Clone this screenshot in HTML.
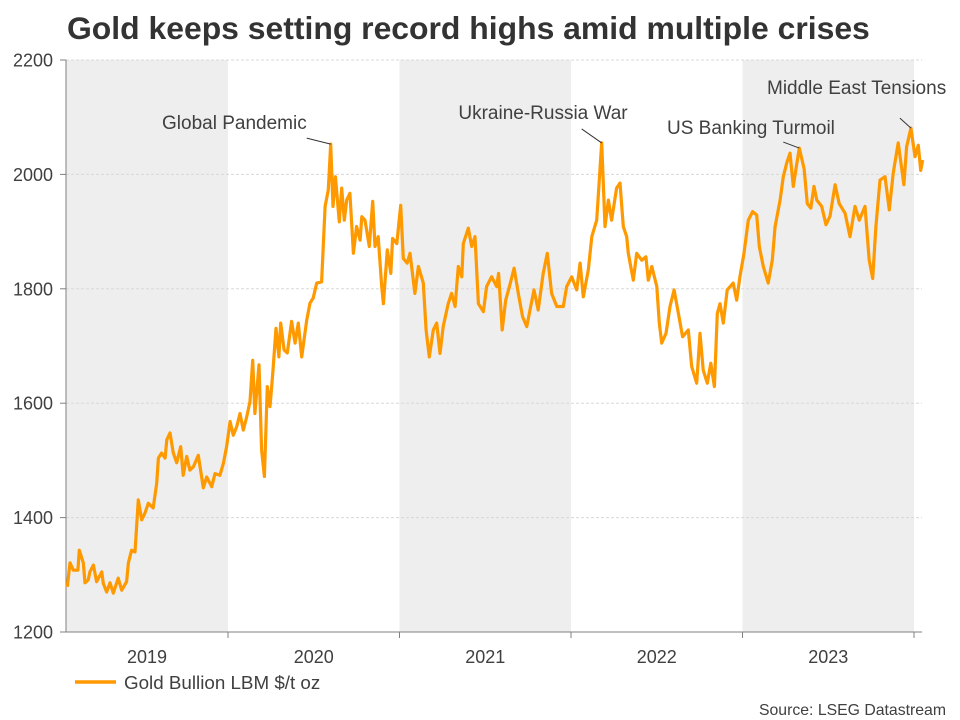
<!DOCTYPE html>
<html><head><meta charset="utf-8"><style>
html,body{margin:0;padding:0;background:#fff;}
svg{display:block;font-family:"Liberation Sans",Arial,sans-serif;}
</style></head><body>
<svg id="chart" width="960" height="720">
<text x="67" y="39" font-size="31.9" font-weight="bold" fill="#333">Gold keeps setting record highs amid multiple crises</text>
<g id="bands"></g><g id="grid"></g><g id="axes"></g><g id="series"></g><g id="notes"></g>
<g>
<line x1="75" y1="682" x2="116" y2="682" stroke="#FF9900" stroke-width="3.5"/>
<text x="124" y="689" font-size="18.8" fill="#404040">Gold Bullion LBM $/t oz</text>
</g>
<text x="946" y="715" font-size="15.8" fill="#404040" text-anchor="end">Source: LSEG Datastream</text>
</svg>
<script>
const dates=[2019.063,2019.079,2019.098,2019.125,2019.133,2019.156,2019.166,2019.185,2019.195,2019.215,2019.234,2019.264,2019.273,2019.293,2019.312,2019.331,2019.360,2019.380,2019.409,2019.419,2019.438,2019.458,2019.477,2019.497,2019.516,2019.535,2019.564,2019.584,2019.594,2019.613,2019.633,2019.643,2019.662,2019.681,2019.701,2019.724,2019.739,2019.759,2019.778,2019.798,2019.827,2019.856,2019.876,2019.905,2019.924,2019.953,2019.973,2019.992,
2020.012,2020.031,2020.051,2020.070,2020.089,2020.109,2020.128,2020.144,2020.157,2020.181,2020.196,2020.212,2020.229,2020.245,2020.261,2020.280,2020.297,2020.307,2020.327,2020.346,2020.371,2020.391,2020.410,2020.430,2020.459,2020.478,2020.497,2020.517,2020.546,2020.566,2020.585,2020.599,2020.612,2020.626,2020.649,2020.663,2020.678,2020.692,2020.711,2020.731,2020.750,2020.770,2020.780,2020.799,2020.824,2020.844,2020.857,2020.876,2020.896,2020.906,2020.929,2020.949,2020.960,2020.984,
2021.007,2021.022,2021.045,2021.061,2021.090,2021.110,2021.139,2021.155,2021.174,2021.197,2021.217,2021.236,2021.255,2021.284,2021.304,2021.324,2021.343,2021.363,2021.372,2021.401,2021.421,2021.440,2021.460,2021.489,2021.508,2021.537,2021.567,2021.578,2021.599,2021.619,2021.644,2021.668,2021.693,2021.718,2021.742,2021.761,2021.784,2021.809,2021.838,2021.862,2021.887,2021.917,2021.955,2021.975,
2022.004,2022.033,2022.053,2022.072,2022.101,2022.121,2022.150,2022.179,2022.198,2022.218,2022.237,2022.266,2022.286,2022.305,2022.325,2022.334,2022.363,2022.383,2022.412,2022.437,2022.451,2022.471,2022.500,2022.515,2022.529,2022.554,2022.577,2022.601,2022.626,2022.651,2022.684,2022.704,2022.733,2022.752,2022.771,2022.795,2022.815,2022.836,2022.853,2022.869,2022.888,2022.911,2022.946,2022.966,2022.985,
2023.009,2023.034,2023.059,2023.083,2023.098,2023.121,2023.150,2023.174,2023.190,2023.219,2023.238,2023.258,2023.277,2023.296,2023.312,2023.331,2023.359,2023.378,2023.398,2023.417,2023.433,2023.462,2023.487,2023.510,2023.540,2023.564,2023.598,2023.627,2023.656,2023.681,2023.714,2023.739,2023.759,2023.778,2023.802,2023.831,2023.856,2023.879,2023.908,2023.941,2023.957,2023.982,2024.006,2024.025,2024.039,2024.051];
const prices=[1279,1321,1308,1308,1343,1321,1286,1291,1305,1317,1288,1305,1285,1270,1286,1268,1294,1273,1288,1321,1343,1340,1431,1396,1408,1425,1417,1460,1504,1513,1504,1536,1548,1513,1496,1524,1474,1507,1483,1489,1509,1452,1471,1454,1477,1474,1495,1524,
1568,1544,1559,1582,1553,1576,1603,1675,1582,1667,1518,1472,1629,1594,1653,1731,1681,1740,1693,1688,1743,1705,1740,1681,1745,1775,1784,1810,1812,1944,1973,2053,1944,1996,1917,1976,1920,1955,1967,1862,1909,1885,1926,1920,1874,1953,1874,1891,1804,1774,1868,1827,1888,1879,
1946,1853,1845,1862,1792,1839,1810,1728,1681,1728,1740,1687,1734,1774,1792,1769,1839,1821,1879,1906,1874,1891,1774,1760,1804,1821,1804,1827,1728,1780,1807,1836,1792,1751,1734,1763,1798,1763,1827,1862,1792,1769,1769,1804,
1821,1798,1845,1786,1833,1891,1920,2055,1909,1955,1920,1976,1985,1909,1891,1862,1815,1862,1850,1856,1815,1839,1804,1740,1705,1722,1769,1798,1757,1716,1728,1664,1635,1722,1658,1635,1670,1629,1757,1774,1740,1798,1810,1780,1821,
1862,1920,1935,1929,1874,1839,1810,1850,1909,1955,1996,2020,2037,1979,2010,2046,2010,1949,1941,1979,1955,1944,1912,1927,1982,1949,1932,1891,1944,1920,1944,1850,1818,1909,1990,1996,1938,2002,2055,1982,2048,2081,2031,2051,2007,2025];
const yTicks=[1200,1400,1600,1800,2000,2200];
const years=[2019,2020,2021,2022,2023];
const shaded=[2019,2021,2023];
const notes=[["Global Pandemic",2020.599,2053],["Ukraine-Russia War",2022.179,2055],["US Banking Turmoil",2023.331,2046],["Middle East Tensions",2023.982,2081]];

const L=66,R=922,T=60,B=632,NS="http://www.w3.org/2000/svg";
function xS(d){return 56.5+(d-2019)*171.5;}
function yS(v){return B-(v-1200)*(B-T)/1000;}
function mk(tag,at,parent,txt){const e=document.createElementNS(NS,tag);for(const k in at)e.setAttribute(k,at[k]);if(txt!==undefined)e.textContent=txt;document.getElementById(parent).appendChild(e);return e;}

shaded.forEach(y=>{const x0=Math.max(L,xS(y)),x1=Math.min(R,xS(y+1));
const r=mk('rect',{x:x0,y:T,width:x1-x0,height:B-T,fill:'#eeeeee'},'bands');

});

yTicks.forEach(v=>{const y=yS(v);
if(v>1200){const g=mk('line',{x1:L,x2:R,y1:y,y2:y,stroke:'#d8d8d8','stroke-dasharray':'3,2','stroke-width':1},'grid');

}
const t=mk('line',{x1:60,x2:L,y1:y,y2:y,stroke:'#808080'},'axes');


const l=mk('text',{x:53,y:y+6.5,'font-size':18,fill:'#404040','text-anchor':'end'},'axes',String(v));

});

const ya=mk('line',{x1:L,x2:L,y1:T,y2:B,stroke:'#808080'},'axes');


const xa=mk('line',{x1:L,x2:R,y1:B,y2:B,stroke:'#808080'},'axes');


years.concat([2024]).forEach(y=>{const x=xS(y);if(x>L&&x<=R){
const t=mk('line',{x1:x,x2:x,y1:B,y2:B+6,stroke:'#808080'},'axes');

}});
years.forEach(y=>{const x=(Math.max(L,xS(y))+Math.min(R,xS(y+1)))/2;
const l=mk('text',{x:x,y:663,'font-size':18,fill:'#404040','text-anchor':'middle'},'axes',String(y));

});

const pts=dates.map((d,i)=>xS(d).toFixed(1)+','+yS(prices[i]).toFixed(1)).join(' ');
const p=mk('polyline',{points:pts,fill:'none',stroke:'#FF9900','stroke-width':3.2,'stroke-linejoin':'round'},'series');



const noteText=[[162,129,'start',-24,-6],[543,119,'middle',-20,-14],[667,134,'start',-16,-6],[767,94,'start',-11,-10]];
notes.forEach((n,i)=>{const px=xS(n[1]),py=yS(n[2]);const c=noteText[i];
const ln=mk('line',{x1:px+c[3],y1:py+c[4],x2:px,y2:py,stroke:'#333','stroke-width':1},'notes');


const t=mk('text',{x:c[0],y:c[1],'font-size':19,fill:'#404040','text-anchor':c[2]},'notes',n[0]);

});
</script>
</body></html>
